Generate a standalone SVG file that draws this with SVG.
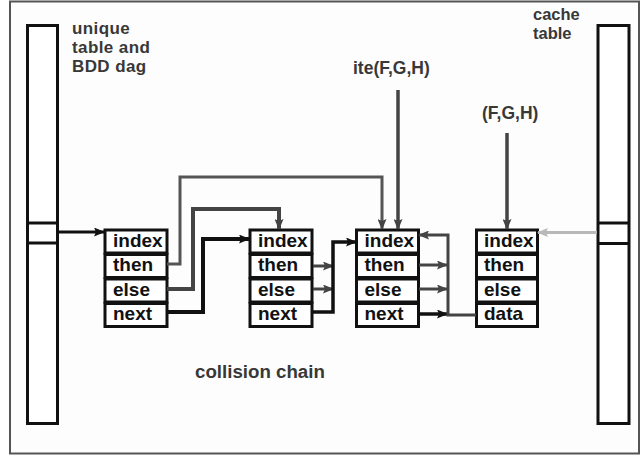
<svg xmlns="http://www.w3.org/2000/svg" width="642" height="456" viewBox="0 0 642 456">
<style>
.lbl{font-family:"Liberation Sans",Arial,sans-serif;font-weight:bold;fill:#383838}
.t{font-family:"Liberation Sans",Arial,sans-serif;font-weight:bold;font-size:19px;fill:#111}
.cell{fill:#fff;stroke:#111;stroke-width:3}
.bar{fill:#fff;stroke:#111;stroke-width:3}
.c{fill:none;stroke-linejoin:miter}
</style>
<defs>
<marker id="ab" markerUnits="userSpaceOnUse" markerWidth="11" markerHeight="9" refX="10" refY="4.5" orient="auto"><path d="M0,0 L11,4.5 L0,9 L2,4.5 z" fill="#111"/></marker>
<marker id="ag" markerUnits="userSpaceOnUse" markerWidth="11" markerHeight="9" refX="10" refY="4.5" orient="auto"><path d="M0,0 L11,4.5 L0,9 L2,4.5 z" fill="#444"/></marker>
<marker id="al" markerUnits="userSpaceOnUse" markerWidth="11" markerHeight="9" refX="10" refY="4.5" orient="auto"><path d="M0,0 L11,4.5 L0,9 L2,4.5 z" fill="#b8b8b8"/></marker>
</defs>
<rect x="10" y="1.5" width="629" height="452" fill="#fdfdfd" stroke="#555" stroke-width="2"/>

<g id="unique-table">
<rect class="bar" x="27.5" y="25.5" width="30" height="398"/>
<line x1="27.5" y1="223" x2="57.5" y2="223" stroke="#111" stroke-width="3"/>
<line x1="27.5" y1="243" x2="57.5" y2="243" stroke="#111" stroke-width="3"/>
<text class="lbl" font-size="17" letter-spacing="0.4" x="72" y="34">unique</text>
<text class="lbl" font-size="17" letter-spacing="0.4" x="72" y="53">table and</text>
<text class="lbl" font-size="17" letter-spacing="0.4" x="72" y="72">BDD dag</text>
</g>

<g id="cache-table">
<rect class="bar" x="598" y="25.5" width="31" height="398"/>
<line x1="598" y1="223" x2="629" y2="223" stroke="#111" stroke-width="3"/>
<line x1="598" y1="243.5" x2="629" y2="243.5" stroke="#111" stroke-width="3"/>
<text class="lbl" font-size="16.5" x="533" y="20">cache</text>
<text class="lbl" font-size="16.5" x="533" y="39">table</text>
</g>

<g id="label-ite"><text class="lbl" font-size="17.5" x="353" y="74">ite(F,G,H)</text></g>
<g id="label-fgh"><text class="lbl" font-size="17.5" x="482" y="119">(F,G,H)</text></g>
<g id="label-chain"><text class="lbl" font-size="18.7" x="195" y="378">collision chain</text></g>

<g id="node1">
<rect class="cell" x="105" y="230" width="62" height="23"/>
<rect class="cell" x="105" y="254.5" width="62" height="23"/>
<rect class="cell" x="105" y="279" width="62" height="23"/>
<rect class="cell" x="105" y="303.5" width="62" height="23"/>
<text class="t" x="113" y="246.5">index</text>
<text class="t" x="113" y="271">then</text>
<text class="t" x="113" y="295.5">else</text>
<text class="t" x="113" y="320">next</text>
</g>

<g id="node2">
<rect class="cell" x="250" y="230" width="62" height="23"/>
<rect class="cell" x="250" y="254.5" width="62" height="23"/>
<rect class="cell" x="250" y="279" width="62" height="23"/>
<rect class="cell" x="250" y="303.5" width="62" height="23"/>
<text class="t" x="258" y="246.5">index</text>
<text class="t" x="258" y="271">then</text>
<text class="t" x="258" y="295.5">else</text>
<text class="t" x="258" y="320">next</text>
</g>

<g id="node3">
<rect class="cell" x="356.5" y="230" width="62" height="23"/>
<rect class="cell" x="356.5" y="254.5" width="62" height="23"/>
<rect class="cell" x="356.5" y="279" width="62" height="23"/>
<rect class="cell" x="356.5" y="303.5" width="62" height="23"/>
<text class="t" x="364.5" y="246.5">index</text>
<text class="t" x="364.5" y="271">then</text>
<text class="t" x="364.5" y="295.5">else</text>
<text class="t" x="364.5" y="320">next</text>
</g>

<g id="node4">
<rect class="cell" x="476.5" y="230" width="61" height="23"/>
<rect class="cell" x="476.5" y="254.5" width="61" height="23"/>
<rect class="cell" x="476.5" y="279" width="61" height="23"/>
<rect class="cell" x="476.5" y="303.5" width="61" height="23"/>
<text class="t" x="484" y="246.5">index</text>
<text class="t" x="484" y="271">then</text>
<text class="t" x="484" y="295.5">else</text>
<text class="t" x="484" y="320">data</text>
</g>

<g id="connectors">
<path class="c" d="M59,232 H104" stroke="#111" stroke-width="3" marker-end="url(#ab)"/>
<path class="c" d="M167,264 H180 V177 H382 V229" stroke="#555" stroke-width="3" marker-end="url(#ag)"/>
<path class="c" d="M167,289 H193 V209 H279 V229" stroke="#444" stroke-width="4" marker-end="url(#ag)"/>
<path class="c" d="M167,312 H203 V239 H249" stroke="#111" stroke-width="4" marker-end="url(#ab)"/>
<path class="c" d="M313,266 H333" stroke="#444" stroke-width="3" marker-end="url(#ag)"/>
<path class="c" d="M313,289 H333" stroke="#444" stroke-width="3" marker-end="url(#ag)"/>
<path class="c" d="M313,312 H333 V242 H356" stroke="#111" stroke-width="3.5" marker-end="url(#ab)"/>
<path class="c" d="M419,265 H447" stroke="#444" stroke-width="3" marker-end="url(#ag)"/>
<path class="c" d="M419,289 H447" stroke="#444" stroke-width="3" marker-end="url(#ag)"/>
<path class="c" d="M419,314 H447" stroke="#111" stroke-width="3.5" marker-end="url(#ab)"/>
<path class="c" d="M476,315 H448 V235 H419" stroke="#444" stroke-width="3" marker-end="url(#ag)"/>
<path class="c" d="M597,232.5 H538" stroke="#b8b8b8" stroke-width="3" marker-end="url(#al)"/>
<path class="c" d="M398,90 V229" stroke="#444" stroke-width="3.5" marker-end="url(#ag)"/>
<path class="c" d="M507,133 V229" stroke="#444" stroke-width="3.5" marker-end="url(#ag)"/>
</g>
</svg>
